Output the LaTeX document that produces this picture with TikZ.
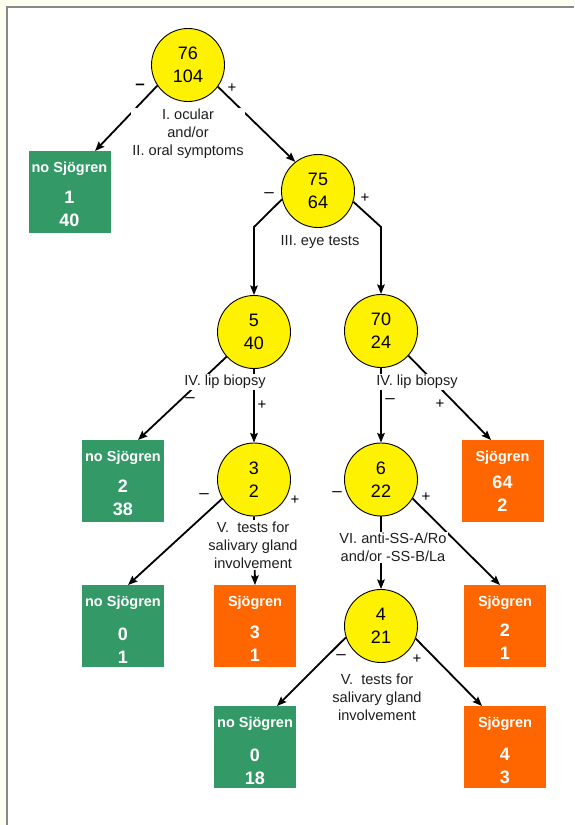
\documentclass[tikz,border=0pt]{standalone}
\usepackage{fontspec}
\setmainfont{Liberation Sans}
\usetikzlibrary{arrows.meta,calc}
\definecolor{cream}{RGB}{255,255,240}
\definecolor{sgreen}{RGB}{51,153,102}
\definecolor{sorange}{RGB}{255,102,0}
\definecolor{framegray}{RGB}{136,136,136}
\definecolor{lbltext}{RGB}{30,30,30}
\newcommand\sjbox[8]{%
  \node[#2,anchor=north] (#1) at (#3,#4) {};
  \node[boxtitle,anchor=base] (#1t) at (#3,#4+21.5) {#5};
  \node[boxnum,anchor=base] (#1a) at (#3,#4+#8) {#6};
  \node[boxnum,anchor=base] (#1b) at (#3,#4+#8+23) {#7};
}
\begin{document}
\begin{tikzpicture}[x=1pt,y=-1pt,
  circ/.style={circle,draw=black,line width=0.9pt,fill=yellow,minimum size=73pt,inner sep=0pt,align=center,font=\fontsize{18}{23}\selectfont},
  gbox/.style={rectangle,fill=sgreen,minimum width=82pt,minimum height=82pt,inner sep=0pt},
  obox/.style={gbox,fill=sorange},
  boxtitle/.style={text=white,font=\bfseries\fontsize{14.5}{17}\selectfont,inner sep=0pt},
  boxnum/.style={text=white,font=\bfseries\fontsize{18}{22}\selectfont,inner sep=0pt},
  conn/.style={line width=1.8pt,-{Stealth[length=9.5pt,width=7.5pt,inset=1.5pt]}},
  lbl/.style={align=center,text=lbltext,font=\fontsize{14.6}{18}\selectfont,fill=white,inner sep=1.5pt},
  sgn/.style={font=\fontsize{15}{15}\selectfont,inner sep=0pt},
  msgn/.style={font=\fontsize{17}{17}\selectfont,inner sep=0pt}]
\useasboundingbox (0,0) rectangle (574,825);
% panel
\fill[cream] (0,0) rectangle (574,825);
\fill[white] (7,6.5) rectangle (574,825);
\draw[framegray,line width=2pt] (7,825) -- (7,6.5) -- (574,6.5);
% circles
\node[circ] (root) at (188,65) {76\\104};
\node[circ] (c2) at (318,191) {75\\64};
\node[circ] (c3) at (254,332) {5\\40};
\node[circ] (c4) at (381,331) {70\\24};
\node[circ] (c5) at (254,479.5) {3\\2};
\node[circ] (c6) at (381,479.5) {6\\22};
\node[circ] (c7) at (381,626) {4\\21};
% boxes
\sjbox{g1}{gbox}{69.5}{151}{no Sjögren}{1}{40}{52.5}
\sjbox{g2}{gbox}{123}{440}{no Sjögren}{2}{38}{52.5}
\sjbox{g3}{gbox}{123}{585}{no Sjögren}{0}{1}{55.5}
\sjbox{o1}{obox}{502.5}{440}{Sjögren}{64}{2}{48.5}
\sjbox{o2}{obox}{505}{585}{Sjögren}{2}{1}{51.5}
\sjbox{o3}{obox}{255}{585}{Sjögren}{3}{1}{53.5}
\sjbox{g4}{gbox}{255}{706}{no Sjögren}{0}{18}{55.5}
\sjbox{o4}{obox}{505}{706}{Sjögren}{4}{3}{54.5}
% connectors
\coordinate (b2l) at (254,227);
\coordinate (b2r) at (381,227);
\draw[conn] (root.214) -- ([xshift=25.5pt]g1.north);
\draw[conn] (root.324) -- (c2.128);
\draw[conn] (c2.193) -- (b2l) -- (c3.north);
\draw[conn] (c2.343) -- (b2r) -- (c4.north);
\draw[conn] (c3.222) -- ([xshift=15pt]g2.north);
\draw[conn] (c3.south) -- (c5.north);
\draw[conn] (c4.318) -- ([xshift=-11.5pt]o1.north);
\draw[conn] (c4.south) -- (c6.north);
\draw[conn] (c5.211) -- ([xshift=5pt]g3.north);
\draw[conn] (c5.south) -- (o3.north);
\draw[conn] (c6.329) -- ([xshift=-5pt]o2.north);
\draw[conn] (c6.south) -- (c7.north);
\draw[conn] (c7.198) -- ([xshift=22pt]g4.north);
\draw[conn] (c7.340) -- ([xshift=-23pt]o4.north);
% labels
\node[lbl] (l1) at (188,134) {I. ocular\\and/or\\II. oral symptoms};
\node[lbl] (l2) at (320,242) {III. eye tests};
\node[lbl] (l3) at (225,382) {IV. lip biopsy};
\node[lbl] (l4) at (417,382) {IV. lip biopsy};
\node[lbl] (l5) at (253,545) {V.\ \ tests for\\salivary gland\\involvement};
\node[lbl] (l6) at (393,547.5) {VI. anti-SS-A/Ro\\and/or -SS-B/La};
\node[lbl] (l7) at (377,697) {V.\ \ tests for\\salivary gland\\involvement};
% signs
\node[msgn] (m1) at (140,87) {\bfseries –};
\node[sgn] (p1) at (232,88) {+};
\node[msgn] (m2) at (269,195) {–};
\node[sgn] (p2) at (365,198) {+};
\node[msgn] (m3) at (190,400) {–};
\node[sgn] (p3) at (262,405) {+};
\node[msgn] (m4) at (390,401) {–};
\node[sgn] (p4) at (440,404) {+};
\node[msgn] (m5) at (204,496) {–};
\node[sgn] (p5) at (295,500) {+};
\node[msgn] (m6) at (337,494) {–};
\node[sgn] (p6) at (426,497) {+};
\node[msgn] (m7) at (341,657) {–};
\node[sgn] (p7) at (417,659) {+};
\end{tikzpicture}
\end{document}
